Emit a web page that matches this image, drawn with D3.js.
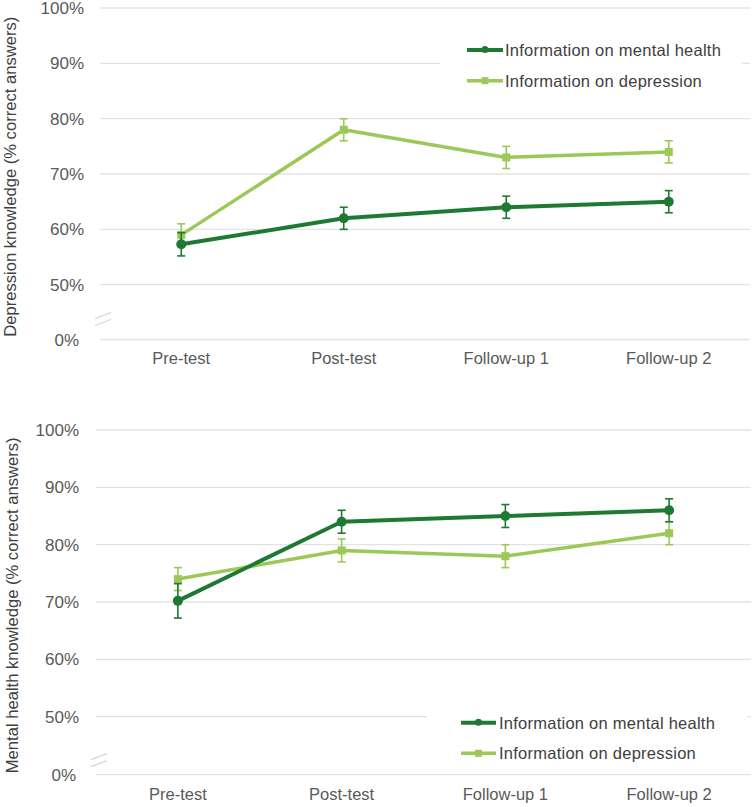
<!DOCTYPE html>
<html>
<head>
<meta charset="utf-8">
<script src="https://cdn.jsdelivr.net/npm/d3@7"></script>
<style>
  body { margin: 0; background: #fff; }
  svg text { font-family: "Liberation Sans", Arial, sans-serif; }
</style>
</head>
<body>
<div id="chart"></div>
<script>
// data
const phases = ["Pre-test", "Post-test", "Follow-up 1", "Follow-up 2"];
const yTicks = [0, 50, 60, 70, 80, 90, 100];
const seriesNames = ["Information on mental health", "Information on depression"];

// top panel: depression knowledge
const depKnowMental = [57.3, 62, 64, 65];
const depKnowMentalErr = [2.1, 2, 2, 2];
const depKnowDepression = [59, 78, 73, 74];
const depKnowDepressionErr = [2, 2, 2, 2];

// bottom panel: mental health knowledge
const mhKnowMental = [70.2, 84, 85, 86];
const mhKnowMentalErr = [3, 2, 2, 2];
const mhKnowDepression = [74, 79, 78, 82];
const mhKnowDepressionErr = [2, 2, 2, 2];

const DARK = "#1e7a33";
const LIGHT = "#9cc857";
const GRID = "#e3e3e3";
const TEXT = "#595959";

const svg = d3.select("#chart").append("svg")
    .attr("width", 753)
    .attr("height", 807);

const panels = [
    {
        title: "Depression knowledge (% correct answers)",
        yRange: [339.5, 284.7, 8],
        xRange: [100, 750],
        labelX: 84, zeroLabelX: 79, titleX: 10,
        catY: 364,
        mental: depKnowMental, mentalErr: depKnowMentalErr,
        depression: depKnowDepression, depressionErr: depKnowDepressionErr,
        legendBox: [440, 30, 302, 68],
        legend: { x1: 467, x2: 503, y: 50, gap: 30.7, tx: 505 },
        breakY: [-21, -14]
    },
    {
        title: "Mental health knowledge (% correct answers)",
        yRange: [774.7, 716.7, 430],
        xRange: [96, 751],
        labelX: 79, zeroLabelX: 76, titleX: 12,
        catY: 800,
        mental: mhKnowMental, mentalErr: mhKnowMentalErr,
        depression: mhKnowDepression, depressionErr: mhKnowDepressionErr,
        legendBox: [427, 702, 320, 68],
        legend: { x1: 461, x2: 496, y: 722.7, gap: 30.6, tx: 499 },
        breakY: [-15, -8]
    }
];

panels.forEach(drawPanel);

function drawPanel(p) {
    const g = svg.append("g");

    // broken axis: 0 then 50..100 at equal steps
    const y = d3.scaleLinear().domain([0, 50, 100]).range(p.yRange);
    const x = d3.scaleBand().domain(phases).range(p.xRange).padding(0);
    const cx = d => x(d) + x.bandwidth() / 2;

    // gridlines
    g.append("g").selectAll("line")
        .data(yTicks)
        .enter().append("line")
        .attr("x1", p.xRange[0])
        .attr("x2", p.xRange[1])
        .attr("y1", d => y(d))
        .attr("y2", d => y(d))
        .attr("stroke", GRID)
        .attr("stroke-width", 1.3);

    // tick labels
    g.append("g").selectAll("text")
        .data(yTicks)
        .enter().append("text")
        .attr("x", d => d === 0 ? p.zeroLabelX : p.labelX)
        .attr("y", d => y(d))
        .attr("dy", "0.36em")
        .attr("text-anchor", "end")
        .attr("fill", TEXT)
        .style("font-size", "17px")
        .text(d => d + "%");

    // axis break marks
    const y0 = y(0);
    g.append("g").selectAll("line")
        .data(p.breakY)
        .enter().append("line")
        .attr("x1", p.xRange[0] - 5)
        .attr("x2", p.xRange[0] + 11)
        .attr("y1", d => y0 + d)
        .attr("y2", d => y0 + d - 6)
        .attr("stroke", "#d6d6d6")
        .attr("stroke-width", 1.3);

    // category labels
    g.append("g").selectAll("text")
        .data(phases)
        .enter().append("text")
        .attr("x", d => cx(d))
        .attr("y", p.catY)
        .attr("text-anchor", "middle")
        .attr("fill", TEXT)
        .style("font-size", "16.5px")
        .text(d => d);

    // y axis title
    const yMid = (p.yRange[0] + p.yRange[2]) / 2 + 3;
    g.append("text")
        .attr("transform", `translate(${p.titleX},${yMid}) rotate(-90)`)
        .attr("dy", "0.36em")
        .attr("text-anchor", "middle")
        .attr("fill", "#404040")
        .style("font-size", "16.6px")
        .text(p.title);

    // legend background hides the gridline under it
    g.append("rect")
        .attr("x", p.legendBox[0])
        .attr("y", p.legendBox[1])
        .attr("width", p.legendBox[2])
        .attr("height", p.legendBox[3])
        .attr("fill", "#fff");

    const series = [
        { vals: p.depression, err: p.depressionErr, color: LIGHT, width: 3.5, marker: "square" },
        { vals: p.mental, err: p.mentalErr, color: DARK, width: 4, marker: "circle" }
    ];

    series.forEach(s => {
        const pts = phases.map((ph, i) => ({ ph: ph, v: s.vals[i], e: s.err[i] }));
        const sg = g.append("g");

        sg.append("path")
            .datum(pts)
            .attr("fill", "none")
            .attr("stroke", s.color)
            .attr("stroke-width", s.width)
            .attr("stroke-linejoin", "round")
            .attr("d", d3.line().x(d => cx(d.ph)).y(d => y(d.v)));

        // error bars
        const eb = sg.append("g").selectAll("g")
            .data(pts)
            .enter().append("g")
            .attr("stroke", s.color)
            .attr("stroke-width", 1.6);
        eb.append("line")
            .attr("x1", d => cx(d.ph)).attr("x2", d => cx(d.ph))
            .attr("y1", d => y(d.v - d.e)).attr("y2", d => y(d.v + d.e));
        eb.append("line")
            .attr("x1", d => cx(d.ph) - 4).attr("x2", d => cx(d.ph) + 4)
            .attr("y1", d => y(d.v + d.e)).attr("y2", d => y(d.v + d.e));
        eb.append("line")
            .attr("x1", d => cx(d.ph) - 4).attr("x2", d => cx(d.ph) + 4)
            .attr("y1", d => y(d.v - d.e)).attr("y2", d => y(d.v - d.e));

        // markers
        if (s.marker === "circle") {
            sg.append("g").selectAll("circle")
                .data(pts)
                .enter().append("circle")
                .attr("cx", d => cx(d.ph))
                .attr("cy", d => y(d.v))
                .attr("r", 5)
                .attr("fill", s.color);
        } else {
            sg.append("g").selectAll("rect")
                .data(pts)
                .enter().append("rect")
                .attr("x", d => cx(d.ph) - 4)
                .attr("y", d => y(d.v) - 4)
                .attr("width", 8)
                .attr("height", 8)
                .attr("fill", s.color);
        }
    });

    // legend
    const lg = g.append("g");
    const legendItems = [
        { name: seriesNames[0], color: DARK, width: 4, marker: "circle" },
        { name: seriesNames[1], color: LIGHT, width: 3.5, marker: "square" }
    ];
    legendItems.forEach((it, i) => {
        const ly = p.legend.y + i * p.legend.gap;
        const mx = (p.legend.x1 + p.legend.x2) / 2;
        lg.append("line")
            .attr("x1", p.legend.x1).attr("x2", p.legend.x2)
            .attr("y1", ly).attr("y2", ly)
            .attr("stroke", it.color)
            .attr("stroke-width", it.width);
        if (it.marker === "circle") {
            lg.append("circle").attr("cx", mx).attr("cy", ly - 0.5).attr("r", 3.5).attr("fill", it.color);
        } else {
            lg.append("rect").attr("x", mx - 3.5).attr("y", ly - 3.5)
                .attr("width", 7).attr("height", 7).attr("fill", it.color);
        }
        lg.append("text")
            .attr("x", p.legend.tx)
            .attr("y", ly)
            .attr("dy", "0.36em")
            .attr("fill", "#404040")
            .style("font-size", "16.5px")
            .style("letter-spacing", "0.25px")
            .text(it.name);
    });
}
</script>
</body>
</html>
